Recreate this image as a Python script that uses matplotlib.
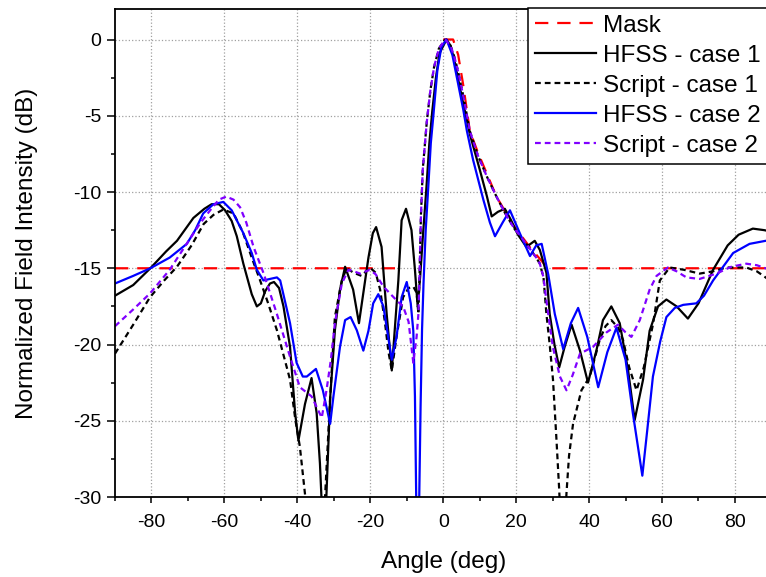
import numpy as np
import matplotlib
matplotlib.use('Agg')
import matplotlib.pyplot as plt
from matplotlib.ticker import MultipleLocator

plt.rcParams['font.family'] = ['Liberation Sans', 'DejaVu Sans']
plt.rcParams['axes.unicode_minus'] = False

# mask (NaN = gap between the two parts)
mask_x = [-90, -11, np.nan, 0, 2.7, 4.1, 5.5, 7.3, 9.5, 14.6, 19, 23.7, 28.7, 90]
mask_y = [-15, -15, np.nan, 0, 0, -1.0, -3.0, -6.0, -7.4, -10.3, -12.1, -13.6, -15, -15]

# HFSS - case 1
h1_x = [-90, -85, -80.3, -76, -73, -68.5, -65.5, -63.5, -61.5, -59.8, -58, -56.6, -54.8, -52.5, -51.1,
        -50, -48.8, -47.5, -46.4, -45, -43.8, -42, -40.6, -39.7, -37.9, -36.1, -34.7, -33.8, -33.2,
        -32.6, -32.2, -31, -29.7, -28.3, -26.9, -24.7, -23.1, -20.5, -19.3, -18.4, -16.9, -15.5,
        -14.1, -12.3, -11.4, -10.2, -8.7, -7.75, -7, -6.3, -5.6, -4.6, -3.8, -3.0, -2, -1, 0.9,
        2, 3, 4, 5.5, 7.3, 10.1, 12, 13.3, 15, 16.9, 18.5, 20.5, 22.8, 25.1, 26.5, 28.3,
        29.2, 30.5, 31.8, 33.3, 35.2, 37.5, 39.7, 42, 43.8, 46.1, 48.4, 50.7, 52.5, 54.8,
        56.6, 58.9, 61.2, 64, 67.1, 70, 74, 78, 81, 84.9, 88, 90]
h1_y = [-16.8, -16.1, -15.0, -13.9, -13.2, -11.7, -11.1, -10.8, -10.8, -11.2, -11.9, -12.9, -14.7, -16.7, -17.5,
        -17.3, -16.5, -16.0, -15.9, -16.3, -17.5, -20.15, -24.5, -26.3, -23.9, -22.2, -24.5, -27.8, -31,
        -36, -31, -23.5, -19.06, -16.4, -14.9, -16.4, -18.6, -14.3, -12.7, -12.3, -13.6, -18.0,
        -21.7, -15.8, -11.85, -11.1, -12.5, -15.1, -17.5, -15.5, -13.0, -9.7, -6.8, -4.7, -2.5, -0.9, 0,
        -0.4, -1.3, -2.5, -4.2, -6.2, -8.6, -10.3, -11.6, -11.3, -11.1, -11.8, -12.8, -13.6, -13.2, -13.8, -15.3,
        -18.0, -20.0, -21.5, -20.15, -18.7, -20.4, -22.5, -20.4, -18.4, -17.5, -18.6, -21.7, -24.95, -22.3,
        -19.1, -17.5, -17.05, -17.5, -18.3, -17.3, -15.1, -13.5, -12.8, -12.4, -12.5, -12.6]

# Script - case 1
s1_x = [-90, -85, -80.4, -76.5, -73, -69, -65.7, -63, -60.3, -57.5, -55, -52.5, -50.2, -48,
        -45.6, -42, -40.5, -39.3, -37.9, -35.2, -32.4, -31, -29.7, -27.8, -26.5, -24.5,
        -22.4, -20.1, -18.5, -17.3, -16, -15, -14.1, -12.8, -11, -9.5, -8.2, -7.3, -6.8,
        -6.5, -6.1, -5.6, -4.5, -3.5, -2.5, -1.2, 0.5, 2, 3, 4, 5.5, 7.3, 9.5, 12, 14.6,
        17, 19.5, 21.5, 23.7, 25.5, 26.5, 27.5, 28.3, 29.2, 30.1, 31, 31.8, 32.8, 33.8,
        34.5, 35.6, 37.9, 40.2, 42.9, 44.5, 46.1, 48, 49.3, 51, 53, 55, 57.5, 59.4, 62.1,
        66, 70.3, 74, 77.6, 83.1, 86, 88.4, 90]
s1_y = [-20.6, -18.7, -16.9, -15.8, -14.9, -13.5, -12.1, -11.5, -11.15, -11.4, -12.6, -14.3, -15.8, -17.3,
        -19.06, -22.3, -25.0, -26.7, -29.8, -40, -30.0, -23.5, -18.2, -15.8, -15.0, -15.3,
        -15.5, -14.95, -15.3, -16.4, -18.5, -20.5, -21.7, -19.5, -16.9, -16.3, -16.2, -16.6, -18,
        -15.5, -11.5, -8.5, -5.4, -3.3, -1.8, -0.6, 0, -0.4, -1.1, -2.0, -3.7, -6.0, -7.6, -9.0, -10.3,
        -11.4, -12.4, -13.0, -13.7, -14.3, -14.7, -15.6, -18, -20, -22.3, -26, -29.5, -35, -29.75,
        -27.3, -25.2, -23.0, -22.1, -19.7, -18.8, -18.4, -18.9, -19.7, -21.5, -23.0, -21.5, -18.7, -15.8, -14.95,
        -15.1, -15.35, -15.2, -14.95, -14.95, -15.2, -15.6, -15.9]

# HFSS - case 2
h2_x = [-90, -85, -80.3, -75, -70.3, -68, -65.8, -63, -60.3, -58, -54.8, -52.5, -51.1, -49.3,
        -47.5, -45.6, -44.7, -42, -40.2, -38.5, -37.4, -34.9, -33, -31, -30.1, -28.3, -26.9,
        -25.4, -23.7, -21.9, -20.5, -19.2, -17.8, -16.4, -14.1, -12.8, -11.4, -10, -8.9,
        -8.2, -7.75, -7.3, -7.0, -6.6, -6.2, -5.8, -5.4, -4.8, -4.1, -3.4, -2.7, -1.6, -0.5,
        0.9, 2.5, 4, 5.5, 6.5, 8.2, 11, 12.8, 14.2, 16.3, 18.3, 21, 23.8, 25.5, 27, 28.8,
        30.6, 32.9, 35, 37, 39.5, 42.5, 45, 47.5, 50, 52, 54.6, 56, 57.5, 59.5, 61.2, 63.5,
        65.8, 69.4, 71.5, 74, 79.5, 84, 88.4, 90]
h2_y = [-16.0, -15.5, -15.0, -14.3, -13.4, -12.5, -11.4, -10.8, -10.65, -11.2, -12.7, -14.0, -15.1, -15.8,
        -15.7, -15.6, -15.8, -18.6, -21.2, -22.1, -22.1, -21.6, -23.0, -25.2, -23.4, -20.15, -18.4,
        -18.2, -19.06, -20.4, -19.1, -17.3, -16.7, -17.5, -21.0, -19.5, -16.9, -15.9, -17.3,
        -19.1, -23.4, -32, -40, -30.5, -24, -19, -16, -12.5, -9.7, -6.8, -5.0, -2.0, -0.5,
        0, -1.0, -2.8, -4.6, -6.0, -7.9, -10.5, -12.0, -12.9, -12.0, -11.2, -12.7, -14.2, -13.5, -13.4, -15.4,
        -18.0, -20.3, -18.6, -17.6, -19.5, -22.8, -20.5, -18.9, -21.0, -24.5, -28.6, -25.5, -22.1, -19.8, -18.2, -17.6,
        -17.4, -17.3, -16.8, -15.8, -14.0, -13.4, -13.2, -13.2]

# Script - case 2
s2_x = [-90, -85, -80.4, -75, -69.4, -66.5, -63.9, -61.5, -59.5, -57.5, -55.7, -54, -52, -49.3,
        -45.6, -42, -39.3, -36.1, -34.5, -33.3, -32, -30.8, -29.7, -27.8, -26, -24.5, -22.8,
        -20.1, -18.5, -16.4, -12.8, -11, -9.5, -8.2, -7.3, -6.8, -6.5, -6.1, -5.6, -4.5,
        -3.5, -2.5, -1.2, 0.5, 2, 3, 4, 5.5, 7.3, 9.5, 12, 14.6, 17, 19.5, 21.5, 23.7, 25.5,
        26.5, 27.5, 28.5, 30.1, 32, 33.8, 35.5, 37.5, 41.1, 44.8, 47.9, 50, 51.6, 53.9, 56.6,
        58.5, 61.6, 64, 66.7, 70.3, 74.9, 79, 83.1, 86, 88.4, 90]
s2_y = [-18.8, -17.7, -16.65, -15.1, -13.05, -12.0, -11.2, -10.5, -10.3, -10.5, -11.0, -12.0, -13.6, -15.3,
        -18.0, -20.8, -22.8, -23.4, -24.2, -24.8, -23.0, -21.0, -18.6, -16.0, -15.1, -15.2, -15.35,
        -15.1, -15.4, -16.2, -17.1, -17.5, -18.5, -21.2, -19.5, -18, -15.5, -11.5, -8.5, -5.4,
        -3.3, -1.8, -0.6, 0, -0.4, -1.1, -2.0, -3.7, -6.0, -7.6, -9.0, -10.3, -11.4, -12.4, -13.0, -13.7, -14.3,
        -14.7, -15.6, -17.5, -20.2, -22.1, -23.0, -22.0, -20.6, -20.15, -19.2, -18.7, -19.2, -19.5, -18.4, -16.4,
        -15.5, -14.95, -15.2, -15.6, -15.7, -15.35, -14.9, -14.7, -14.8, -15.0, -15.2]

fig = plt.figure(figsize=(7.66, 5.77), dpi=100)
ax = fig.add_axes([0.1501, 0.1386, 0.857, 0.8458])

lw = 1.6
ax.plot(mask_x, mask_y, color='#FF0000', lw=lw, ls=(0, (6, 4)), label='Mask')
ax.plot(h1_x, h1_y, color='black', lw=lw, label='HFSS - case 1')
ax.plot(s1_x, s1_y, color='black', lw=lw, ls=(0, (2.6, 1.8)), label='Script - case 1')
ax.plot(h2_x, h2_y, color='#0000FF', lw=lw, label='HFSS - case 2')
ax.plot(s2_x, s2_y, color='#8000FF', lw=lw, ls=(0, (2.6, 1.8)), label='Script - case 2')

ax.set_xlim(-90, 90)
ax.set_ylim(-30, 2)
ax.xaxis.set_major_locator(MultipleLocator(20))
ax.xaxis.set_minor_locator(MultipleLocator(10))
ax.yaxis.set_major_locator(MultipleLocator(5))
ax.yaxis.set_minor_locator(MultipleLocator(2.5))
ax.grid(True, which='major', ls=':', color='#a0a0a0', lw=0.9)

ax.tick_params(which='both', direction='out', width=1.1, labelsize=14)
ax.tick_params(axis='x', which='major', length=4.5, pad=8)
ax.tick_params(axis='y', which='major', length=6, pad=4)
ax.tick_params(which='minor', length=3)
for sp in ax.spines.values():
    sp.set_linewidth(1.3)

ax.set_xlabel('Angle (deg)', fontsize=17.5, labelpad=14)
ax.set_ylabel('Normalized Field Intensity (dB)', fontsize=17.5, labelpad=25)

leg = ax.legend(loc='upper left', bbox_to_anchor=(528 / 766, 1 - 7.5 / 577),
                bbox_transform=fig.transFigure, fontsize=17.5, frameon=True,
                fancybox=False, borderpad=0.3, labelspacing=0.33,
                handlelength=2.5, handletextpad=0.3, borderaxespad=0)
leg.get_frame().set_edgecolor('black')
leg.get_frame().set_linewidth(1.1)
leg.get_frame().set_alpha(1)

fig.savefig('out.png', dpi=100)
